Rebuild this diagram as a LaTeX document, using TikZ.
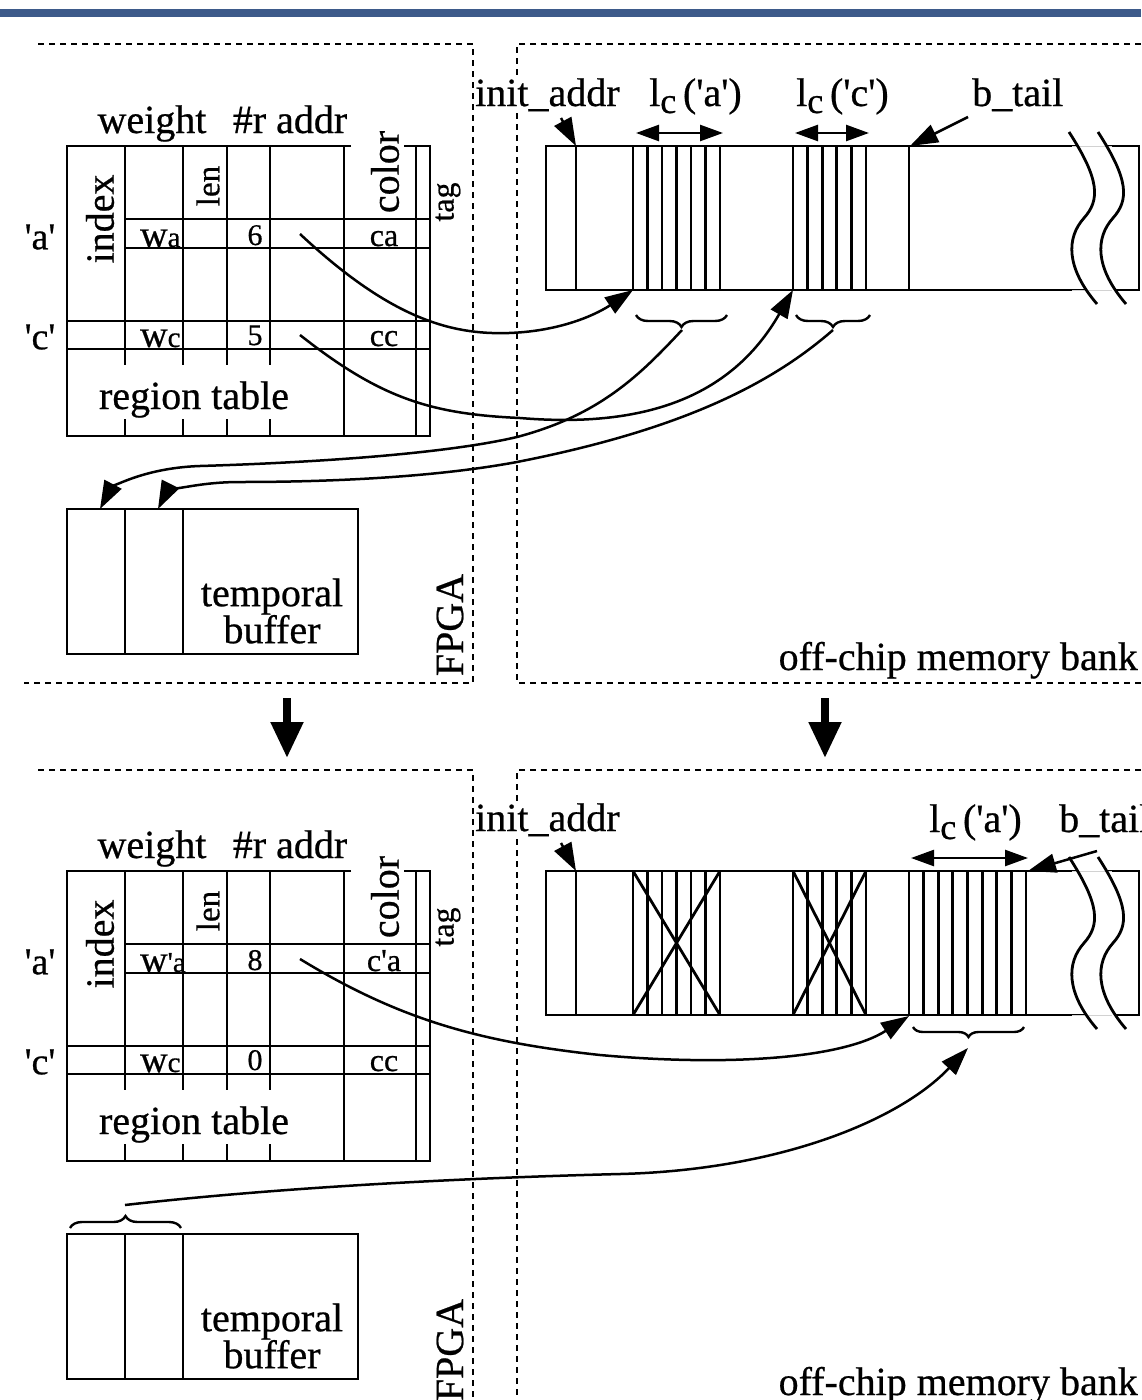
\documentclass[tikz,border=0pt]{standalone}
\usepackage{fontspec}
\setmainfont{Liberation Serif}[UprightFeatures={FakeBold=0.6}]
\usetikzlibrary{
	arrows.meta,
	decorations.pathreplacing,
	positioning
}
\definecolor{BarBlue}{RGB}{61,90,138}
\newcommand{\setsz}[1]{\fontsize{#1}{#1}\selectfont}
\newcommand{\squote}{\textquotesingle}
\newcommand{\lenc}[1]{l\raisebox{-7pt}{\setsz{36}c}\,(\squote #1\squote)}

\tikzset{
	cell/.style={line width=2.8pt},
	regionline/.style={line width=2.8pt, dash pattern=on 6pt off 5pt},
	lbl/.style={font=\setsz{40}, inner sep=1pt},
	ptr/.style={line width=2.5pt, -{Triangle[length=28pt,width=19pt]}},
	lenspan/.style={line width=2.5pt, {Triangle[length=23pt,width=16pt]}-{Triangle[length=23pt,width=16pt]}},
	curly/.style={line width=2.4pt, decorate, decoration={brace, amplitude=12pt}},
	stepdown/.style={line width=8pt, -{Triangle[length=36pt,width=31pt]}}
}

\begin{document}
\begin{tikzpicture}[x=1pt, y=-1pt]
		\useasboundingbox (0,0) rectangle (1141,1400);
		\fill[BarBlue] (0,9) rectangle (1141,17);
		% off-chip frames
		\draw[regionline] (1141,44) -- (517,44) -- (517,683) -- (1141,683);
		\draw[regionline] (1141,770) -- (517,770) -- (517,1400);

		% parts common to both states
		\foreach \s/\dy/\na/\nc/\pr in {t/0/6/5/{}, b/725/8/0/\squote}{
		\begin{scope}[shift={(0,\dy)}]
			% region table
			\draw[cell] (351,146) -- (67,146) -- (67,436) -- (430,436) -- (430,146) -- (404,146);
			\foreach \x in {125,183,227,270}{
				\draw[cell] (\x,146) -- (\x,365);
				\draw[cell] (\x,419) -- (\x,436);
			}
			\draw[cell] (344,146) -- (344,436);
			\draw[cell] (416,146) -- (416,436);
			\draw[cell] (125,219) -- (430,219);
			\draw[cell] (125,248) -- (430,248);
			\draw[cell] (67,321) -- (430,321);
			\draw[cell] (67,349) -- (430,349);
			\node[lbl, anchor=base] (weight\s) at (152,133) {weight};
			\node[lbl, anchor=base] (raddr\s) at (290,133) {\#r addr};
			\node[lbl, rotate=90] (index\s) at (100,219) {index};
			\node[lbl, rotate=90, font=\setsz{33}] (len\s) at (208,186) {len};
			\node[lbl, rotate=90] (color\s) at (385,172) {color};
			\node[lbl, rotate=90, font=\setsz{32}] (tag\s) at (448,202) {tag};
			\node[lbl, font=\setsz{38}] (keyA\s) at (40,237) {\squote a\squote};
			\node[lbl, font=\setsz{38}] (keyC\s) at (40,337) {\squote c\squote};
			\node[lbl, anchor=base west, font=\setsz{38}] (wA\s) at (139,247) {w\setsz{29}\pr a};
			\node[lbl, anchor=base west, font=\setsz{38}] (wC\s) at (139,347) {w\setsz{29}c};
			\node[lbl, anchor=base, font=\setsz{30}] (numA\s) at (255,245) {\na};
			\node[lbl, anchor=base, font=\setsz{30}] (numC\s) at (255,345) {\nc};
			\node[lbl, anchor=base, font=\setsz{32}] (colA\s) at (384,246) {c\pr a};
			\node[lbl, anchor=base, font=\setsz{32}] (colC\s) at (384,346) {cc};
			\node[lbl, anchor=base] (region\s) at (194,409) {region table};
			% temporal buffer
			\draw[cell] (67,509) rectangle (358,654);
			\draw[cell] (125,509) -- (125,654);
			\draw[cell] (183,509) -- (183,654);
			\node[lbl, align=center, font={\fontsize{40}{37}\selectfont}] (buffer\s) at (272,611) {temporal\\buffer};
			\node[lbl, rotate=90] (fpga\s) at (450,625) {FPGA};
			\node[lbl, anchor=base east] (offchip\s) at (1139,670) {off-chip memory bank};
			% memory bank
			\draw[cell] (546,146) rectangle (1139,290);
			\draw[cell] (576,146) -- (576,290);
			\foreach \i in {0,...,6}
				\draw[cell] ({633+14.5*\i},146) -- ({633+14.5*\i},290);
			\foreach \i in {0,...,5}
				\draw[cell] ({793+14.6*\i},146) -- ({793+14.6*\i},290);
			\draw[cell] (909,146) -- (909,290);
			% break marks
			\fill[white] (1069,132) .. controls (1100,180) and (1100,200) .. (1084,218)
				.. controls (1066,238) and (1066,268) .. (1097,304) -- (1126,304)
				.. controls (1095,268) and (1095,238) .. (1113,218)
				.. controls (1129,200) and (1129,180) .. (1098,132) -- cycle;
			\draw[gray!35, line width=1pt] (1072,146) -- (1112,146) (1072,290) -- (1112,290);
			\draw[cell] (1069,132) .. controls (1100,180) and (1100,200) .. (1084,218)
				.. controls (1066,238) and (1066,268) .. (1097,304);
			\draw[cell] (1098,132) .. controls (1129,180) and (1129,200) .. (1113,218)
				.. controls (1095,238) and (1095,268) .. (1126,304);
			\node[lbl, anchor=base west, fill=white] (init\s) at (474,106) {init\_addr};
			\coordinate (initfrom\s) at (561,118);
			\coordinate (initto\s) at (576,146);
			\draw[ptr, dash pattern=on 5pt off 4pt] (initfrom\s) -- (initto\s);
			\coordinate (rowA\s) at (300,234);
		\end{scope}
		}

		% FPGA frames
		\draw[regionline] (38,44) -- (473,44) -- (473,683) -- (24,683);
		\draw[regionline] (38,770) -- (473,770) -- (473,1400);

		% state change
		\coordinate (stepL1) at (287,698);
		\coordinate (stepL2) at (287,758);
		\coordinate (stepR1) at (825,698);
		\coordinate (stepR2) at (825,758);
		\draw[stepdown] (stepL1) -- (stepL2);
		\draw[stepdown] (stepR1) -- (stepR2);

		% before: two live regions
		\node[lbl, anchor=base west] (lenA) at (648,106) {\lenc{a}};
		\node[lbl, anchor=base west] (lenC) at (795,106) {\lenc{c}};
		\coordinate (spanAl) at (636,133);
		\coordinate (spanAr) at (723,133);
		\coordinate (spanCl) at (795,133);
		\coordinate (spanCr) at (869,133);
		\draw[lenspan] (spanAl) -- (spanAr);
		\draw[lenspan] (spanCl) -- (spanCr);
		\node[lbl, anchor=base west] (tail) at (971,106) {b\_tail};
		\coordinate (tailfrom) at (968,117);
		\coordinate (tailto) at (910,146);
		\draw[ptr] (tailfrom) -- (tailto);
		\draw[curly] (727,315) -- (636,315);
		\draw[curly] (870,315) -- (796,315);
		\coordinate (rowC) at (300,335);
		\coordinate (grpA) at (633,290);
		\coordinate (grpC) at (793,290);
		\coordinate (braceA) at (682,330);
		\coordinate (braceC) at (833,330);
		\coordinate (slot1) at (100,509);
		\coordinate (slot2) at (158,509);
		\draw[ptr] (rowAt) .. controls (390,318) and (450,335) .. (509,333)
			.. controls (565,331) and (600,312) .. (grpA);
		\draw[ptr] (rowC) .. controls (380,398) and (430,414) .. (520,418)
			.. controls (640,428) and (730,400) .. (grpC);
		\draw[ptr] (braceA) .. controls (640,375) and (600,415) .. (517,437)
			.. controls (440,455) and (300,463) .. (200,466)
			.. controls (140,468) and (110,490) .. (slot1);
		\draw[ptr] (braceC) .. controls (770,385) and (680,430) .. (517,462)
			.. controls (420,480) and (300,482) .. (240,482)
			.. controls (190,482) and (165,495) .. (slot2);

		% after: regions moved to the tail
		\draw[cell] (633,871) -- (720,1015);
		\draw[cell] (720,871) -- (633,1015);
		\draw[cell] (793,871) -- (866,1015);
		\draw[cell] (866,871) -- (793,1015);
		\foreach \i in {1,...,8}
			\draw[cell] ({909+14.625*\i},871) -- ({909+14.625*\i},1015);
		\node[lbl, anchor=base west] (lenAb) at (928,832) {\lenc{a}};
		\coordinate (spanBl) at (911,858);
		\coordinate (spanBr) at (1028,858);
		\draw[lenspan] (spanBl) -- (spanBr);
		\node[lbl, anchor=base west] (tailb) at (1058,832) {b\_tail};
		\coordinate (tailbfrom) at (1097,851);
		\coordinate (tailbto) at (1028,871);
		\draw[ptr] (tailbfrom) -- (tailbto);
		\draw[curly, decoration={brace, amplitude=10pt}] (1024,1027) -- (913,1027);
		\draw[curly] (70,1228) -- (181,1228);
		\coordinate (grpNew) at (909,1016);
		\coordinate (braceNew) at (968,1048);
		\coordinate (braceBuf) at (125,1205);
		\draw[ptr] (rowAb) .. controls (400,1020) and (480,1042) .. (600,1055)
			.. controls (720,1066) and (840,1060) .. (grpNew);
		\draw[ptr] (braceBuf) .. controls (300,1185) and (500,1177) .. (620,1174)
			.. controls (780,1170) and (900,1120) .. (braceNew);
	\end{tikzpicture}
\end{document}
